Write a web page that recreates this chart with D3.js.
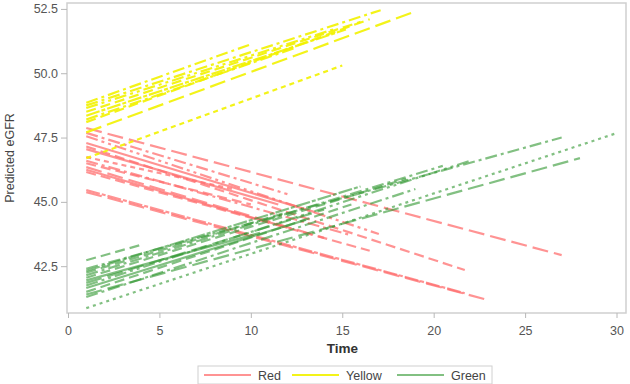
<!DOCTYPE html>
<html>
<head>
<meta charset="utf-8">
<script src="https://cdn.jsdelivr.net/npm/d3@7"></script>
<style>
  body { margin: 0; background: #fff; }
  svg text { font-family: "Liberation Sans", Arial, sans-serif; }
</style>
</head>
<body>
<div id="chart"></div>
<script>
// every line starts at time 1
let startTime = 1;

let yellowStart = [48.85, 48.75, 48.65, 48.5, 48.35, 48.2, 48.1, 47.7, 46.7];
let yellowEndT  = [9.9, 17.1, 14.5, 16.0, 15.2, 12.5, 16.5, 18.8, 15.0];
let yellowEndV  = [51.1, 52.45, 51.7, 52.0, 51.7, 51.0, 52.1, 52.35, 50.3];

let redStart = [47.87, 47.68, 47.55, 47.29, 47.15, 47.05, 46.74, 46.6, 46.5, 46.35, 46.25, 46.16, 45.46, 45.38];
let redEndT  = [27.0, 12.0, 17.0, 13.5, 21.7, 11.5, 9.0, 15.5, 10.0, 14.0, 12.0, 16.5, 21.7, 23.0];
let redEndV  = [42.93, 45.3, 43.75, 44.6, 42.35, 44.9, 45.5, 43.7, 44.9, 43.6, 44.0, 43.1, 41.45, 41.18];

let greenStart = [42.73, 42.4, 42.32, 42.25, 42.15, 42.05, 41.95, 41.85, 41.75, 41.65, 41.5, 41.4, 41.3, 40.87];
let greenEndT  = [4.1, 27.0, 16.0, 12.0, 20.5, 18.5, 10.5, 14.0, 22.0, 13.0, 15.5, 28.0, 19.0, 30.0];
let greenEndV  = [43.35, 47.5, 45.6, 44.6, 46.4, 45.9, 43.8, 44.7, 46.6, 44.3, 44.9, 46.7, 45.5, 47.67];

let xTicks = [0, 5, 10, 15, 20, 25, 30];
let yTicks = [42.5, 45.0, 47.5, 50.0, 52.5];
let groups = ["Red", "Yellow", "Green"];

// line patterns, one per line of each group
let patterns = {
    solid: null, dash: "10,5", shortdash: "5,4", longdash: "16,6",
    dashdot: "12,4,3,4", dashdotdot: "12,4,3,4,3,4", dot: "3,4", block: "14,2,4,2"
};
let yellowStyle = ["dashdot", "dashdot", "dashdotdot", "dash", "block", "dashdot", "dash", "longdash", "shortdash"];
let redStyle = ["longdash", "dashdot", "dashdotdot", "solid", "dash", "solid", "shortdash", "dashdot", "dash", "longdash", "solid", "dash", "block", "longdash"];
let greenStyle = ["dash", "dashdot", "block", "dash", "dashdot", "dash", "solid", "longdash", "dashdotdot", "solid", "dash", "longdash", "dashdot", "dot"];

let colors = {Red: "#ff6f6f", Yellow: "#f2f200", Green: "#2f962f"};
let opac = {Red: 0.75, Yellow: 0.9, Green: 0.6};

let W = 630, H = 384;
let margin = {top: 3, right: 4, bottom: 71, left: 67},
    width = W - margin.left - margin.right,
    height = H - margin.top - margin.bottom;

let svg = d3.select("#chart").append("svg")
    .attr("width", W)
    .attr("height", H);

let g = svg.append("g")
    .attr("transform", "translate(" + margin.left + "," + margin.top + ")");

let x = d3.scaleLinear().domain([0, 30.3]).range([1, width - 4]);
let y = d3.scaleLinear().domain([40.68, 52.73]).range([height, 0]);

function build(name, st, et, ev, sty) {
    return st.map(function (v, i) {
        return {group: name, style: sty[i], pts: [[startTime, v], [et[i], ev[i]]]};
    });
}
let lines = [].concat(
    build("Red", redStart, redEndT, redEndV, redStyle),
    build("Yellow", yellowStart, yellowEndT, yellowEndV, yellowStyle),
    build("Green", greenStart, greenEndT, greenEndV, greenStyle)
);

// frame
g.append("rect")
    .attr("width", width).attr("height", height)
    .attr("fill", "none").attr("stroke", "#cfcfcf").attr("stroke-width", 1.5);

let line = d3.line().x(d => x(d[0])).y(d => y(d[1]));

g.selectAll(".series")
    .data(lines)
    .enter().append("path")
    .attr("class", "series")
    .attr("d", d => line(d.pts))
    .attr("fill", "none")
    .attr("stroke", d => colors[d.group])
    .attr("stroke-opacity", d => opac[d.group])
    .attr("stroke-width", 2.2)
    .attr("stroke-dasharray", d => patterns[d.style]);

let xAxis = d3.axisBottom(x).tickValues(xTicks).tickSize(5).tickSizeOuter(0);
let yAxis = d3.axisLeft(y).tickValues(yTicks).tickFormat(d3.format(".1f")).tickSize(6).tickSizeOuter(0);

let xg = g.append("g").attr("transform", "translate(0," + height + ")").call(xAxis);
let yg = g.append("g").call(yAxis);
[xg, yg].forEach(function (a) {
    a.select(".domain").remove();
    a.selectAll("line").attr("stroke", "#b8b8b8");
    a.selectAll("text").attr("fill", "#555").style("font-size", "12.5px");
});
xg.selectAll("text").attr("dy", "1.1em");

svg.append("text")
    .attr("x", margin.left + width / 2 - 4)
    .attr("y", 353)
    .attr("text-anchor", "middle")
    .attr("fill", "#333")
    .style("font-size", "13.5px")
    .style("font-weight", "bold")
    .text("Time");

svg.append("text")
    .attr("transform", "translate(14," + (margin.top + height / 2) + ") rotate(-90)")
    .attr("text-anchor", "middle")
    .attr("fill", "#444")
    .style("font-size", "12.5px")
    .text("Predicted eGFR");

// legend
let lg = svg.append("g").attr("transform", "translate(198,366)");
lg.append("rect")
    .attr("width", 294).attr("height", 18)
    .attr("fill", "#fff").attr("stroke", "#d0d0d0");
let itemX = [6, 94, 199];
groups.forEach(function (k, i) {
    lg.append("line")
        .attr("x1", itemX[i]).attr("x2", itemX[i] + 47)
        .attr("y1", 9).attr("y2", 9)
        .attr("stroke", colors[k]).attr("stroke-opacity", opac[k])
        .attr("stroke-width", 2.2);
    lg.append("text")
        .attr("x", itemX[i] + 54).attr("y", 13.5)
        .attr("fill", "#444")
        .style("font-size", "12.5px")
        .text(k);
});
</script>
</body>
</html>
